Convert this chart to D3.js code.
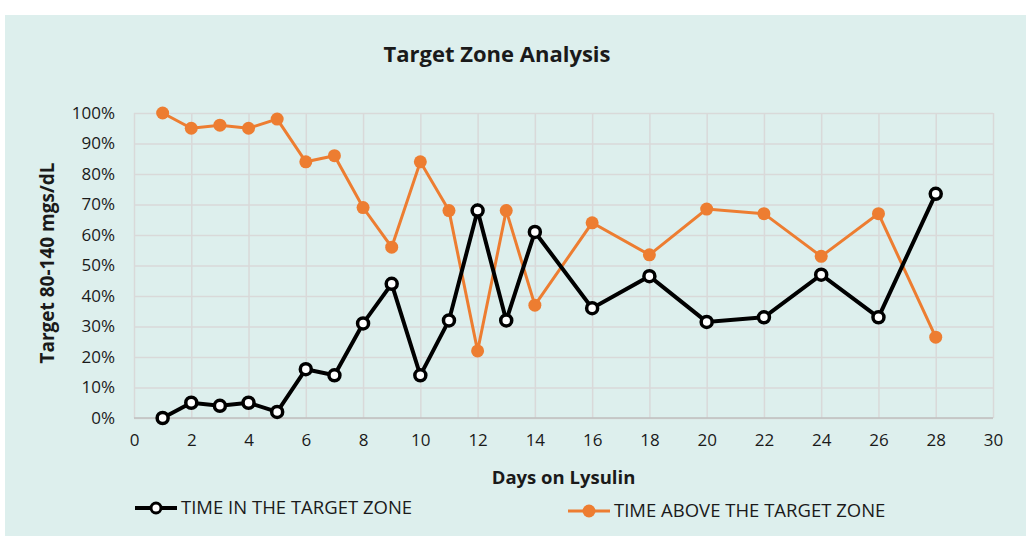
<!DOCTYPE html>
<html>
<head>
<meta charset="utf-8">
<script src="https://cdn.jsdelivr.net/npm/d3@7"></script>
<style>
  body { margin: 0; background: #fff; }
  text { font-family: "Open Sans", "Noto Sans", sans-serif; fill: #1a1a1a; }
</style>
</head>
<body>
<svg id="chart" width="1026" height="536"></svg>
<script>
// data
const days = [1, 2, 3, 4, 5, 6, 7, 8, 9, 10, 11, 12, 13, 14, 16, 18, 20, 22, 24, 26, 28];
const timeInZone = [0, 5, 4, 5, 2, 16, 14, 31, 44, 14, 32, 68, 32, 61, 36, 46.5, 31.5, 33, 47, 33, 73.5];
const timeAbove = [100, 95, 96, 95, 98, 84, 86, 69, 56, 84, 68, 22, 68, 37, 64, 53.5, 68.5, 67, 53, 67, 26.5];
const xTicks = d3.range(0, 31, 2);
const yTicks = d3.range(0, 101, 10);

const svg = d3.select("#chart");
const margin = { top: 113, right: 33, bottom: 118, left: 134 };
const width = 1026 - margin.left - margin.right;
const height = 536 - margin.top - margin.bottom;

svg.append("rect")
  .attr("x", 5).attr("y", 15)
  .attr("width", 1021).attr("height", 521)
  .attr("fill", "#ddefed");

const g = svg.append("g").attr("transform", `translate(${margin.left},${margin.top})`);

const x = d3.scaleLinear().domain([0, 30]).range([0, width]);
const y = d3.scaleLinear().domain([0, 100]).range([height, 0]);

// grid
g.append("g")
  .call(d3.axisLeft(y).tickValues(yTicks).tickSize(-width).tickFormat(""))
  .call(a => a.select(".domain").remove())
  .selectAll("line").attr("stroke", "#d9d9d9").attr("stroke-width", 1.5);
g.append("g")
  .attr("transform", `translate(0,${height})`)
  .call(d3.axisBottom(x).tickValues(xTicks).tickSize(-height).tickFormat(""))
  .call(a => a.select(".domain").remove())
  .selectAll("line").attr("stroke", "#d9d9d9").attr("stroke-width", 1.5);

g.append("line")
  .attr("x1", 0).attr("x2", width).attr("y1", height).attr("y2", height)
  .attr("stroke", "#bfbfbf").attr("stroke-width", 1.5);

// tick labels
const yAxis = g.append("g")
  .call(d3.axisLeft(y).tickValues(yTicks).tickSize(0).tickPadding(19).tickFormat(d => d + "%"));
yAxis.select(".domain").remove();
yAxis.selectAll("text").style("font-size", "17px").attr("fill", "#1a1a1a");

const xAxis = g.append("g")
  .attr("transform", `translate(0,${height})`)
  .call(d3.axisBottom(x).tickValues(xTicks).tickSize(0).tickPadding(16));
xAxis.select(".domain").remove();
xAxis.selectAll("text").style("font-size", "17px").attr("fill", "#1a1a1a");

// lines
const inData = days.map((d, i) => [d, timeInZone[i]]);
const aboveData = days.map((d, i) => [d, timeAbove[i]]);
const line = d3.line().x(d => x(d[0])).y(d => y(d[1]));

g.append("path").datum(aboveData)
  .attr("fill", "none").attr("stroke", "#ed7d31").attr("stroke-width", 3)
  .attr("d", line);
g.selectAll(".above").data(aboveData).enter().append("circle")
  .attr("class", "above")
  .attr("cx", d => x(d[0])).attr("cy", d => y(d[1])).attr("r", 6.5)
  .attr("fill", "#ed7d31");

g.append("path").datum(inData)
  .attr("fill", "none").attr("stroke", "#000").attr("stroke-width", 4)
  .attr("d", line);
g.selectAll(".inzone").data(inData).enter().append("circle")
  .attr("class", "inzone")
  .attr("cx", d => x(d[0])).attr("cy", d => y(d[1])).attr("r", 5.5)
  .attr("fill", "#fff").attr("stroke", "#000").attr("stroke-width", 3.5);

// titles
svg.append("text")
  .attr("x", 497).attr("y", 62)
  .attr("text-anchor", "middle")
  .style("font-size", "22px").style("font-weight", "bold")
  .text("Target Zone Analysis");

svg.append("text")
  .attr("x", margin.left + width / 2).attr("y", 484)
  .attr("text-anchor", "middle")
  .style("font-size", "18.5px").style("font-weight", "bold")
  .text("Days on Lysulin");

svg.append("text")
  .attr("transform", `translate(54,263) rotate(-90)`)
  .attr("text-anchor", "middle")
  .style("font-size", "19px").style("font-weight", "bold")
  .text("Target 80-140 mgs/dL");

// legend
const legend = [
  { name: "TIME IN THE TARGET ZONE", x: 135, y: 508, color: "#000", hollow: true },
  { name: "TIME ABOVE THE TARGET ZONE", x: 568, y: 511, color: "#ed7d31", hollow: false }
];
const lg = svg.selectAll(".legend").data(legend).enter().append("g")
  .attr("transform", d => `translate(${d.x},${d.y})`);
lg.append("line").attr("x1", 0).attr("x2", 42)
  .attr("stroke", d => d.color).attr("stroke-width", d => d.hollow ? 4 : 3);
lg.append("circle").attr("cx", 21).attr("r", d => d.hollow ? 5 : 6.5)
  .attr("fill", d => d.hollow ? "#fff" : d.color)
  .attr("stroke", d => d.hollow ? "#000" : "none").attr("stroke-width", 3);
lg.append("text").attr("x", 46).attr("dy", "0.35em")
  .style("font-size", "18.5px")
  .text(d => d.name);
</script>
</body>
</html>
